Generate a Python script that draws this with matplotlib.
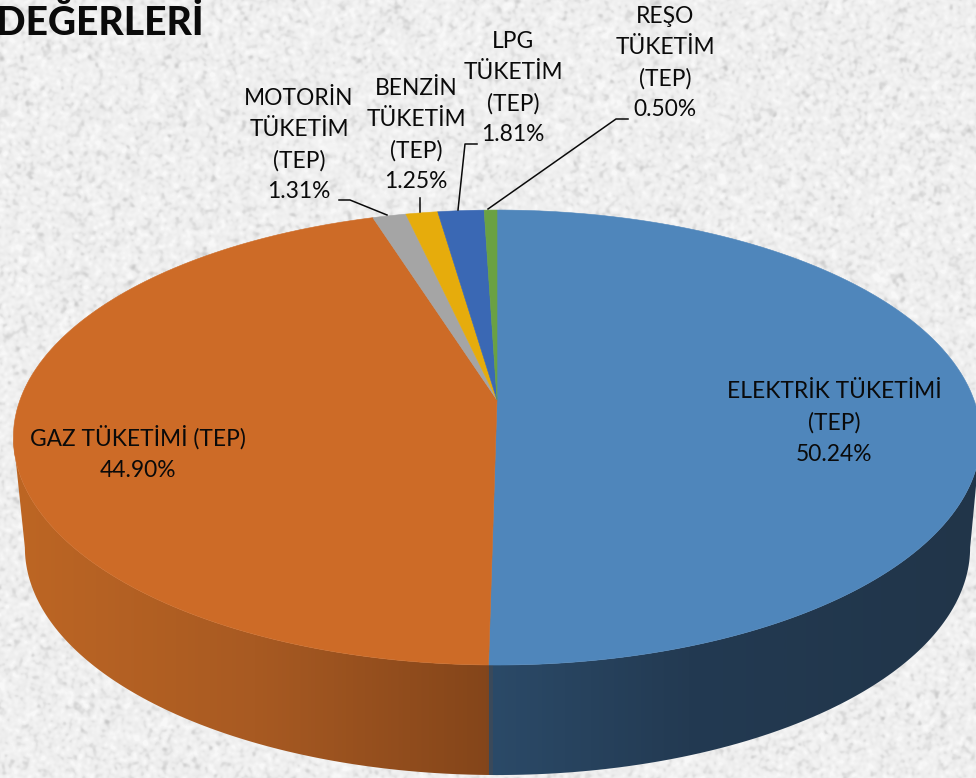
import numpy as np
import matplotlib
matplotlib.use('Agg')
import matplotlib.pyplot as plt
from matplotlib.colors import LinearSegmentedColormap
from matplotlib.patches import Polygon

plt.rcParams['font.family'] = ['Lato', 'DejaVu Sans']

labels = ['ELEKTRİK TÜKETİMİ\n(TEP)', 'GAZ TÜKETİMİ (TEP)', 'MOTORİN\nTÜKETİM\n(TEP)',
          'BENZİN\nTÜKETİM\n(TEP)', 'LPG\nTÜKETİM\n(TEP)', 'REŞO\nTÜKETİM\n(TEP)']
values = [50.24, 44.90, 1.31, 1.25, 1.81, 0.50]
colors = ['#4f86bb', '#cd6b27', '#a5a5a5', '#e6ac0c', '#3a68b4', '#6aa143']

W, H = 976, 778
# pie in perspective: apex, half sizes and how strong the foreshortening is
APEX_X, APEX_Y = 497, 400
HX, HY, PERSP = 477, 221.3, 0.165
DEPTH = 110


def project(ang):
    # ang is measured clockwise from the top of the pie, in radians
    u, v = np.sin(ang), np.cos(ang)
    d = 1 + PERSP * v
    return APEX_X + HX * u / d, APEX_Y - HY * v / d


def background(ax):
    # light marble texture, only decoration
    rng = np.random.default_rng(4)
    noise = rng.normal(size=(H, W))
    fy = np.fft.fftfreq(H)[:, None]
    fx = np.fft.rfftfreq(W)[None, :]
    fine = np.fft.irfft2(np.fft.rfft2(noise) * np.exp(-(fx**2 + fy**2) * 2 * 1.6**2 * np.pi**2), s=(H, W))
    fine = fine / fine.std()
    img = 238 - 4 * fine - 6 * np.clip(fine - 0.7, 0, None)
    img = np.clip(img, 200, 248) / 255
    ax.imshow(img, cmap='gray', vmin=0, vmax=1, extent=(0, W, H, 0), aspect='auto', zorder=0)


def wall(ax):
    t = np.linspace(np.pi / 2, 3 * np.pi / 2, 200)
    xt, yt = project(np.linspace(0, 2 * np.pi, 400))
    cx, cy = (xt.max() + xt.min()) / 2, (yt.max() + yt.min()) / 2
    rx, ry = (xt.max() - xt.min()) / 2, (yt.max() - yt.min()) / 2
    top = np.c_[cx + rx * np.sin(t), cy - ry * np.cos(t)]
    bottom = np.c_[cx + 0.5 + (rx - 11) * np.sin(t), cy + DEPTH - ry * np.cos(t)]
    outline = np.r_[top, bottom[::-1]]
    cmap = LinearSegmentedColormap.from_list('wall', [(0, '#bd6624'), (0.25, '#a85a22'), (0.49, '#84451a'),
                                                      (0.495, '#2b4a68'), (0.7, '#233a52'), (1, '#213549')])
    grad = np.linspace(0, 1, 976)[None, :]
    im = ax.imshow(grad, cmap=cmap, extent=(cx - rx, cx + rx, H, 0), aspect='auto', zorder=1)
    patch = Polygon(outline, closed=True, transform=ax.transData, fc='none', ec='none')
    ax.add_patch(patch)
    im.set_clip_path(patch)


def slices(ax):
    fracs = np.array(values) / np.sum(values)
    edges = np.r_[0, np.cumsum(fracs)] * 2 * np.pi
    for a, b, c in zip(edges[:-1], edges[1:], colors):
        x, y = project(np.linspace(a, b, max(int((b - a) * 100), 8)))
        pts = np.r_[[[APEX_X, APEX_Y]], np.c_[x, y]]
        ax.add_patch(Polygon(pts, closed=True, fc=c, ec=c, lw=0.4, zorder=2))


def main():
    fig = plt.figure(figsize=(W / 100, H / 100), dpi=100)
    ax = fig.add_axes([0, 0, 1, 1])
    background(ax)
    wall(ax)
    slices(ax)
    ax.set_xlim(0, W)
    ax.set_ylim(H, 0)
    ax.axis('off')

    # label centres in pixels
    pos = [(834, 423), (138, 453), (299, 145), (416, 135), (513, 88), (665, 63)]
    for lab, val, (x, y) in zip(labels, values, pos):
        ax.text(x, y, f'{lab}\n{val:.2f}%', ha='center', va='center', fontsize=16.4, color='#0a0a0a',
                linespacing=1.58, zorder=4)

    # leader lines
    leaders = [([339, 350, 387], [200, 200, 215]),
               ([420, 420], [198, 212]),
               ([477, 465, 458], [144, 144, 210]),
               ([628, 616, 488], [119, 119, 209])]
    for xs, ys in leaders:
        ax.plot(xs, ys, color='#0a0a0a', lw=1.1, zorder=3)

    ax.text(-4, 23, 'DEĞERLERİ', fontsize=28, fontweight='black', color='#0a0a0a', ha='left', va='center', zorder=4)
    fig.savefig('out.png', dpi=100)


if __name__ == '__main__':
    main()
